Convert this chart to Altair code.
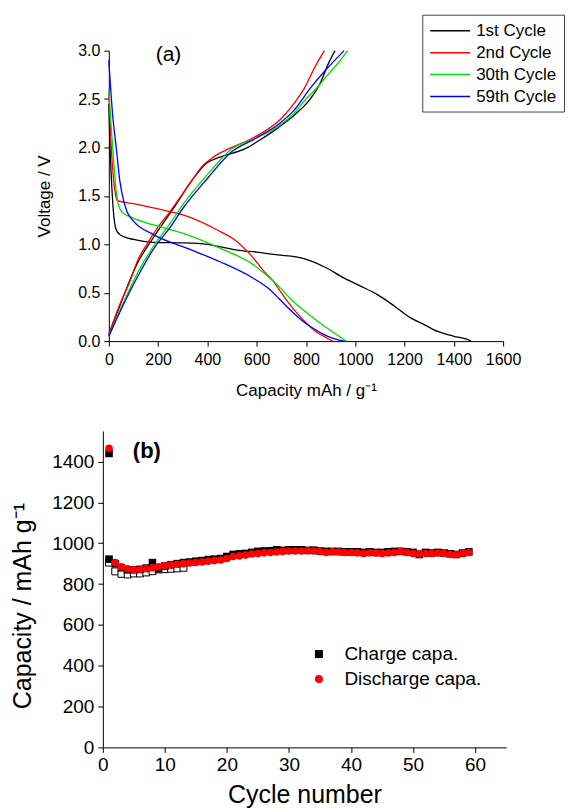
import altair as alt
import pandas as pd

FONT = "Liberation Sans"

# ---------------- Panel (a): voltage profiles ----------------
cycle_names = ["1st Cycle", "2nd Cycle", "30th Cycle", "59th Cycle"]
cycle_colors = ["#000000", "#ff0000", "#00dd00", "#0000ff"]

# discharge branches (capacity mAh/g, voltage V)
dis1_cap = [0, 5, 12, 20, 30, 45, 60, 100, 180, 300, 400, 460, 520, 600, 685, 760, 807, 880, 955, 1020, 1090, 1160, 1225, 1280, 1334, 1400, 1462, 1470]
dis1_v = [2.45, 2.0, 1.6, 1.3, 1.15, 1.1, 1.08, 1.05, 1.02, 1.015, 1.0, 0.97, 0.94, 0.92, 0.89, 0.87, 0.84, 0.76, 0.65, 0.57, 0.48, 0.36, 0.24, 0.17, 0.10, 0.05, 0.01, 0.0]
dis2_cap = [0, 8, 15, 25, 35, 100, 181, 316, 438, 519, 586, 630, 667, 700, 725, 760, 800, 840, 880, 908]
dis2_v = [2.55, 2.1, 1.8, 1.55, 1.45, 1.42, 1.375, 1.29, 1.15, 1.03, 0.86, 0.72, 0.62, 0.5, 0.41, 0.3, 0.19, 0.1, 0.04, 0.0]
dis30_cap = [0, 10, 20, 30, 40, 55, 100, 181, 316, 451, 586, 650, 700, 740, 800, 850, 900, 940, 965]
dis30_v = [2.6, 2.2, 1.85, 1.55, 1.4, 1.33, 1.27, 1.2, 1.1, 0.96, 0.79, 0.66, 0.54, 0.43, 0.3, 0.2, 0.11, 0.04, 0.0]
dis59_cap = [0, 15, 30, 45, 60, 75, 100, 181, 316, 451, 586, 650, 690, 725, 780, 830, 880, 920, 955]
dis59_v = [2.9, 2.35, 2.0, 1.65, 1.45, 1.33, 1.24, 1.1, 0.96, 0.82, 0.65, 0.54, 0.44, 0.35, 0.22, 0.13, 0.06, 0.02, 0.0]

# charge branches
chg1_cap = [0, 50, 113, 181, 262, 343, 397, 451, 556, 615, 685, 760, 820, 861, 888, 918]
chg1_v = [0.07, 0.4, 0.79, 1.07, 1.37, 1.68, 1.84, 1.9, 1.99, 2.08, 2.2, 2.35, 2.51, 2.68, 2.85, 3.0]
chg2_cap = [0, 40, 86, 120, 154, 200, 249, 316, 384, 424, 481, 570, 652, 700, 750, 793, 834, 875]
chg2_v = [0.07, 0.35, 0.62, 0.85, 1.0, 1.18, 1.34, 1.58, 1.82, 1.9, 1.98, 2.08, 2.2, 2.3, 2.45, 2.61, 2.82, 3.0]
chg30_cap = [0, 60, 120, 181, 250, 303, 400, 496, 600, 689, 750, 800, 850, 888, 930, 969]
chg30_v = [0.05, 0.4, 0.72, 0.98, 1.22, 1.42, 1.72, 1.98, 2.1, 2.22, 2.35, 2.5, 2.63, 2.75, 2.87, 3.0]
chg59_cap = [0, 60, 120, 181, 250, 303, 400, 496, 600, 689, 750, 820, 880, 955]
chg59_v = [0.05, 0.38, 0.68, 0.95, 1.18, 1.38, 1.68, 1.95, 2.1, 2.24, 2.38, 2.62, 2.8, 3.0]

branches = [
    ("1st Cycle", "dis", dis1_cap, dis1_v), ("1st Cycle", "chg", chg1_cap, chg1_v),
    ("2nd Cycle", "dis", dis2_cap, dis2_v), ("2nd Cycle", "chg", chg2_cap, chg2_v),
    ("30th Cycle", "dis", dis30_cap, dis30_v), ("30th Cycle", "chg", chg30_cap, chg30_v),
    ("59th Cycle", "dis", dis59_cap, dis59_v), ("59th Cycle", "chg", chg59_cap, chg59_v),
]
rows = []
for name, br, caps, vs in branches:
    for i, (c, v) in enumerate(zip(caps, vs)):
        rows.append({"cap": c, "V": v, "cycle": name, "branch": name + br, "idx": i})
df_a = pd.DataFrame(rows)

x_vals_a = list(range(0, 1601, 100))
y_vals_a = [i * 0.25 for i in range(13)]

lines_a = alt.Chart(df_a).mark_line(strokeWidth=1.3, interpolate="monotone").encode(
    x=alt.X("cap:Q",
            scale=alt.Scale(domain=[0, 1600], range=[6, 401], nice=False, zero=False),
            axis=alt.Axis(values=x_vals_a,
                          labelExpr="datum.value % 200 == 0 ? datum.value : ''",
                          title="Capacity mAh / g\u207b\u00b9",
                          labelFontSize=16, titleFontSize=17, titlePadding=15,
                          tickSize=5, labelPadding=5, labelFlush=False, labelOverlap=False)),
    y=alt.Y("V:Q",
            scale=alt.Scale(domain=[0, 3], nice=False),
            axis=alt.Axis(values=y_vals_a,
                          labelExpr="abs(datum.value*2 - round(datum.value*2)) < 0.001 ? format(datum.value, '.1f') : ''",
                          title="Voltage / V", offset=-6,
                          labelFontSize=16, titleFontSize=17, titlePadding=24,
                          tickSize=5, labelPadding=4, labelFlush=False, labelOverlap=False)),
    color=alt.Color("cycle:N",
                    scale=alt.Scale(domain=cycle_names, range=cycle_colors),
                    legend=alt.Legend(title=None, orient="none", legendX=320, legendY=-36,
                                      symbolType="M-1,0H4", symbolSize=256, symbolStrokeWidth=1.5,
                                      labelFontSize=17, labelOffset=29, rowPadding=5,
                                      padding=7, strokeColor="#444444", fillColor="white")),
    detail="branch:N",
    order="idx:Q",
)

label_a_df = pd.DataFrame({"cap": [242], "V": [2.96], "t": ["(a)"]})
text_a = alt.Chart(label_a_df).mark_text(fontSize=21, align="center", baseline="middle", color="black").encode(
    x="cap:Q", y="V:Q", text="t:N")

panel_a = alt.layer(lines_a, text_a).properties(width=401, height=291)

# ---------------- Panel (b): cycling performance ----------------
charge_cycle = [1, 1, 2, 3, 4, 5, 6, 7, 8, 9, 10, 11, 12, 13, 14, 15, 16, 17, 18, 19, 20,
                21, 22, 23, 24, 25, 26, 27, 28, 29, 30, 31, 32, 33, 34, 35, 36, 37, 38, 39, 40,
                41, 42, 43, 44, 45, 46, 47, 48, 49, 50, 51, 52, 53, 54, 55, 56, 57, 58, 59]
charge_cap = [1440, 922, 900, 880, 870, 870, 872, 878, 905, 875, 888, 895, 900, 905, 908, 912, 915, 920, 922, 925, 935,
              945, 948, 950, 955, 960, 962, 963, 968, 965, 968, 968, 968, 965, 966, 962, 960, 960, 960, 958, 958,
              958, 955, 958, 955, 955, 958, 960, 960, 958, 955, 945, 955, 952, 955, 952, 948, 945, 952, 958]
discharge_cycle = list(range(1, 60))
discharge_cap = [1465, 905, 885, 875, 870, 872, 875, 880, 885, 890, 893, 897, 900, 903, 906, 908, 912, 915, 918, 925,
                 935, 938, 942, 947, 950, 953, 955, 957, 960, 962, 962, 962, 963, 962, 960, 955, 958, 957, 955, 955,
                 953, 950, 953, 952, 950, 952, 955, 962, 955, 950, 948, 950, 950, 952, 950, 945, 945, 950, 955]
open_cycle = list(range(1, 14))
open_cap = [905, 862, 850, 847, 852, 852, 857, 863, 872, 873, 875, 877, 880]

series_names = ["Charge capa.", "Discharge capa."]

df_b = pd.DataFrame(
    [{"cyc": c, "capv": v, "s": "Charge capa.", "o": 0} for c, v in zip(charge_cycle, charge_cap)]
    + [{"cyc": c, "capv": v, "s": "Discharge capa.", "o": 1} for c, v in zip(discharge_cycle, discharge_cap)]
)
df_open = pd.DataFrame({"cyc": open_cycle, "capv": open_cap})

x_vals_b = list(range(0, 66, 5))
y_vals_b = list(range(0, 1501, 100))

xb = alt.X("cyc:Q",
           scale=alt.Scale(domain=[0, 65], nice=False),
           axis=alt.Axis(values=x_vals_b,
                         labelExpr="datum.value % 10 == 0 ? datum.value : ''",
                         title="Cycle number",
                         labelFontSize=19, titleFontSize=25, titlePadding=8,
                         tickSize=5, labelPadding=3, labelFlush=False, labelOverlap=False))
yb = alt.Y("capv:Q",
           scale=alt.Scale(domain=[0, 1550], nice=False),
           axis=alt.Axis(values=y_vals_b,
                         labelExpr="datum.value % 200 == 0 ? datum.value : ''",
                         title="Capacity / mAh g\u207b\u00b9",
                         labelFontSize=19, titleFontSize=25, titlePadding=16, titleY=175,
                         tickSize=5, labelPadding=4, labelFlush=False, labelOverlap=False))

open_pts = alt.Chart(df_open).mark_square(size=48, fill="white", stroke="black", strokeWidth=1, opacity=1).encode(
    x=xb, y=yb)

leg_b = alt.Legend(title=None, orient="none", legendX=207, legendY=214,
                   labelFontSize=19, symbolSize=64, labelOffset=16, rowPadding=5, padding=0)
pts = alt.Chart(df_b).mark_point(filled=True, size=58, opacity=1).encode(
    x=xb, y=yb,
    color=alt.Color("s:N", scale=alt.Scale(domain=series_names, range=["#000000", "#ff0000"]), legend=leg_b),
    shape=alt.Shape("s:N", scale=alt.Scale(domain=series_names, range=["square", "circle"]), legend=leg_b),
    order="o:Q",
)

label_b_df = pd.DataFrame({"cyc": [7.1], "capv": [1450], "t": ["(b)"]})
text_b = alt.Chart(label_b_df).mark_text(fontSize=22, fontWeight="bold", align="center", baseline="middle", color="black").encode(
    x="cyc:Q", y="capv:Q", text="t:N")

panel_b = alt.layer(open_pts, pts, text_b).properties(width=404, height=317)

chart = alt.vconcat(panel_a, panel_b, spacing=90, bounds="flush").resolve_scale(
    color="independent", shape="independent"
).properties(
    padding={"left": 2, "top": 5, "right": 0, "bottom": 0}
).configure(font=FONT).configure_view(stroke=None).configure_axis(
    grid=False, domainColor="black", tickColor="black", labelColor="black", titleColor="black",
    labelFont=FONT, titleFont=FONT, titleFontWeight="normal", domainWidth=1, tickWidth=1
).configure_legend(labelFont=FONT, labelColor="black").configure_text(font=FONT)

chart.save("out.html", embed_options={"renderer": "svg", "actions": False})
